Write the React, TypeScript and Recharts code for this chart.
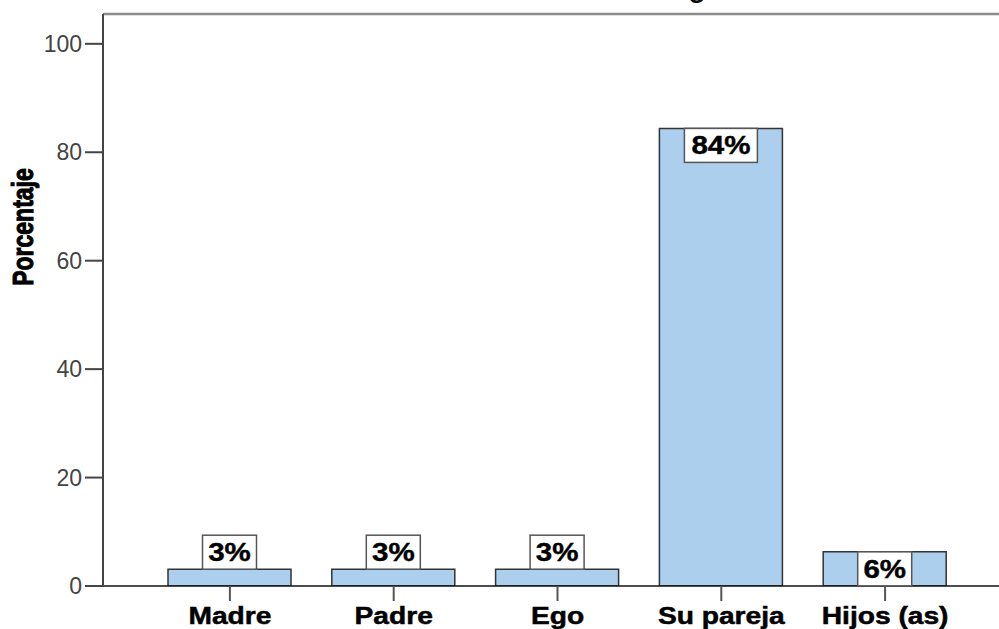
import React from 'react';
import { BarChart, Bar, XAxis, YAxis, ReferenceLine, LabelList } from 'recharts';

const categories = ['Madre', 'Padre', 'Ego', 'Su pareja', 'Hijos (as)'];
const percentages = [3.1, 3.1, 3.1, 84.4, 6.3];
const yTicks = [0, 20, 40, 60, 80, 100];
const yMax = 105.5;

const chartData = categories.map((name, i) => ({ name, pct: percentages[i] }));

const FONT = '"Liberation Sans", Arial, sans-serif';

// the source image is a bit stretched sideways, so the bold texts get a scaleX
const XTick = (props: any) => {
  const { x, y, payload } = props;
  return (
    <g transform={`translate(${x}, ${y + 21}) scale(1.15, 1)`}>
      <text
        x={0}
        y={0}
        textAnchor="middle"
        fontFamily={FONT}
        fontWeight="bold"
        fontSize={24.5}
        fill="#000"
        stroke="#000"
        strokeWidth={0.5}
      >
        {payload.value}
      </text>
    </g>
  );
};

const YLabel = () => {
  const cx = 33;
  const cy = 227;
  return (
    <g transform={`translate(${cx}, ${cy}) scale(1.3, 1) rotate(-90)`}>
      <text
        x={0}
        y={0}
        textAnchor="middle"
        fontFamily={FONT}
        fontWeight="bold"
        fontSize={23}
        fill="#000"
        stroke="#000"
        strokeWidth={0.8}
      >
        Porcentaje
      </text>
    </g>
  );
};

const PctLabel = (props: any) => {
  const { x, y, width, value } = props;
  const txt = `${Math.round(value)}%`;
  const boxW = 16 + 19 * txt.length;
  const boxH = 34;
  const inside = value >= 5;
  const top = inside ? y : y - boxH;
  const cx = x + width / 2;
  return (
    <g>
      <rect x={cx - boxW / 2} y={top} width={boxW} height={boxH} fill="#fff" stroke="#555" strokeWidth={1.5} />
      <g transform={`translate(${cx}, ${top + boxH / 2 + 9}) scale(1.18, 1)`}>
        <text
          x={0}
          y={0}
          textAnchor="middle"
          fontFamily={FONT}
          fontWeight="bold"
          fontSize={25}
          fill="#000"
          stroke="#000"
          strokeWidth={0.4}
        >
          {txt}
        </text>
      </g>
    </g>
  );
};

const App: React.FC = () => {
  return (
    <div style={{ position: 'absolute', left: 0, top: 0, width: 999, height: 629, overflow: 'hidden', background: '#fff' }}>
      <BarChart
        width={1005}
        height={629}
        data={chartData}
        margin={{ top: 14, right: 0, left: 0, bottom: 0 }}
        style={{ position: 'absolute', left: 0, top: 0 }}
      >
        <XAxis
          dataKey="name"
          height={43}
          padding={{ left: 45, right: 38 }}
          axisLine={{ stroke: '#111', strokeWidth: 1.5 }}
          tickLine={{ stroke: '#555', strokeWidth: 2 }}
          tickSize={15}
          tick={<XTick />}
          interval={0}
        />
        <YAxis
          width={103}
          domain={[0, yMax]}
          ticks={yTicks}
          allowDataOverflow
          axisLine={{ stroke: '#444', strokeWidth: 2 }}
          tickLine={{ stroke: '#444', strokeWidth: 2 }}
          tickSize={18}
          tickMargin={3}
          tick={{ fontFamily: FONT, fontSize: 23, fill: '#444' }}
          label={<YLabel />}
        />
        <ReferenceLine y={yMax} stroke="#8a8a8a" strokeWidth={2.5} />
        <Bar dataKey="pct" barSize={123} fill="#adcfee" stroke="#333" strokeWidth={1.5} isAnimationActive={false}>
          <LabelList dataKey="pct" content={<PctLabel />} />
        </Bar>
      </BarChart>
      <svg width={999} height={20} style={{ position: 'absolute', left: 0, top: 0 }}>
        <text x={697} y={-3} textAnchor="middle" fontFamily={FONT} fontWeight="bold" fontSize={28} fill="#000">g</text>
      </svg>
    </div>
  );
};

export default App;
